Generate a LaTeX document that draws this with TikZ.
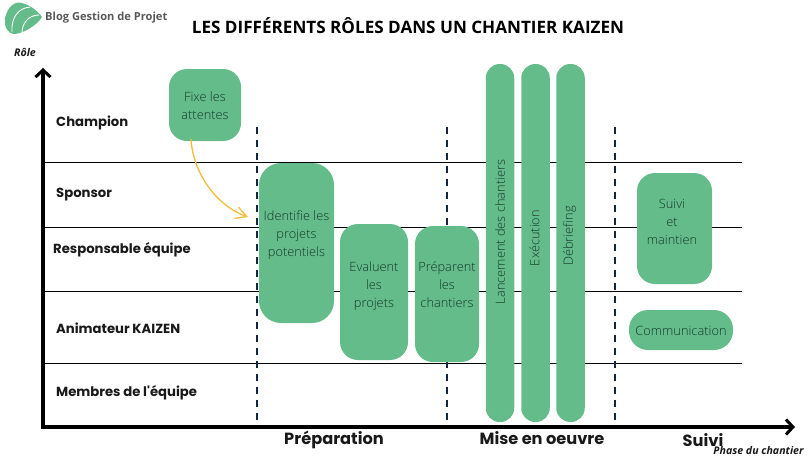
\documentclass[tikz,border=0pt]{standalone}
\usepackage{fontspec}
\setmainfont{Open Sans}
\newfontfamily\lab{Poppins}
\newfontfamily\lightf{Open Sans Light}
\usetikzlibrary{arrows.meta}
\definecolor{grn}{HTML}{64BC8B}
\definecolor{dsh}{HTML}{12263F}
\definecolor{txt}{HTML}{17382A}
\definecolor{ylw}{HTML}{F5BC3A}
\tikzset{
 pbox/.style={fill=grn,rounded corners=#1,inner sep=0pt,anchor=center},
 pbox/.default=16pt,
 ptext/.style={align=center,text=txt,inner sep=0pt,font=\lightf\fontsize{12.8}{18}\selectfont},
 rowlab/.style={font=\lab\bfseries\fontsize{13.2}{15}\selectfont,anchor=west,text=black!90,inner sep=0pt},
 phase/.style={font=\lab\bfseries\fontsize{16.2}{19}\selectfont,anchor=center,text=black!90,inner sep=0pt},
 axlab/.style={font=\bfseries\itshape\fontsize{10.6}{12}\selectfont,anchor=center,text=black!90,inner sep=0pt},
 rowline/.style={draw=black,line width=0.9pt},
 phaseline/.style={draw=dsh,line width=2pt,dash pattern=on 7pt off 6pt},
 axis/.style={draw=black,line width=3.4pt,-{Straight Barb[length=7pt,width=15pt,line width=3pt]}},
}
\begin{document}
\begin{tikzpicture}[x=1pt,y=-1pt]
\useasboundingbox (0,0) rectangle (811,456);
% logo
\fill[grn] (5,18) .. controls (8,6) and (15,1) .. (22,3) .. controls (30,5) and (38,11) .. (42,17) .. controls (38,24) and (25,33) .. (15,34) .. controls (7,34) and (4,26) .. (5,18) -- cycle;
\draw[white,line width=0.9pt] (12,32) .. controls (11,18) and (18,8) .. (30,7);
\draw[white,line width=0.9pt] (22,33) .. controls (22,24) and (28,15) .. (39,15);
\node[font=\bfseries\fontsize{11.1}{13}\selectfont,text=black!65,anchor=west,inner sep=0pt] (logo) at (45,18) {Blog Gestion de Projet};
\node[font=\bfseries\fontsize{17.1}{20}\selectfont,text=black,anchor=center,inner sep=0pt] (title) at (408,25.5) {LES DIFFÉRENTS RÔLES DANS UN CHANTIER KAIZEN};
\node[axlab] (role) at (25,52) {Rôle};
\node[axlab] (phasechantier) at (758.5,450.5) {Phase du chantier};
% coordinates
\foreach \n/\yy in {a/162,b/227,c/291,d/363}{
 \coordinate (\n l) at (43,\yy); \coordinate (\n r) at (742,\yy);
 \draw[rowline] (\n l) -- (\n r);
}
\foreach \n/\xx in {p/257,q/447,r/615}{
 \coordinate (\n t) at (\xx,127); \coordinate (\n b) at (\xx,427);
 \draw[phaseline] (\n t) -- (\n b);
}
\coordinate (o) at (43,427);
\coordinate (ytip) at (43,68);
\coordinate (xtip) at (795,427);
\draw[axis] ([yshift=-1.7pt]o) -- (ytip);
\draw[axis] ([xshift=-1.7pt]o) -- (xtip);
% boxes
\node[pbox=18pt,minimum width=72pt,minimum height=72pt] (fixe) at (205,105) {};
\node[ptext] (fixet) at (205,106) {Fixe les\\attentes};
\node[pbox=22pt,minimum width=75pt,minimum height=160pt] (ident) at (296.5,243) {};
\node[ptext] (identt) at (296.5,235) {Identifie les\\projets\\potentiels};
\node[pbox=18pt,minimum width=68pt,minimum height=136pt] (eval) at (374,292) {};
\node[ptext] (evalt) at (374,286.5) {Evaluent\\les\\projets};
\node[pbox=18pt,minimum width=64pt,minimum height=136pt] (prep) at (447,294) {};
\node[ptext] (prept) at (447,285) {Préparent\\les\\chantiers};
\node[pbox=14pt,minimum width=28.5pt,minimum height=358pt] (lanc) at (500,243) {};
\node[ptext,rotate=90] (lanct) at (500,232) {Lancement des chantiers};
\node[pbox=14pt,minimum width=28.5pt,minimum height=358pt] (exec) at (535.5,243) {};
\node[ptext,rotate=90] (exect) at (534.5,238) {Exécution};
\node[pbox=14pt,minimum width=28.5pt,minimum height=358pt] (debr) at (570.5,243) {};
\node[ptext,rotate=90] (debrt) at (569.5,236) {Débriefing};
\node[pbox=18pt,minimum width=75pt,minimum height=111pt] (suivi) at (674.5,228.5) {};
\node[ptext] (suivit) at (672,221.5) {Suivi\\et\\maintien};
\node[pbox=19pt,minimum width=104pt,minimum height=40pt] (comm) at (681,330) {};
\node[ptext] (commt) at (681,330.5) {Communication};
% arrow
\coordinate (arrowend) at (248,217);
\draw[ylw,line width=1.3pt,-{Straight Barb[length=11pt,width=12pt,line width=1.3pt]}] (fixe.south) ++(-14,-2) .. controls (193,172) and (215,205) .. (arrowend);
% labels
\node[rowlab] (champ) at (56,123) {Champion};
\node[rowlab] (spons) at (56,195) {Sponsor};
\node[rowlab] (resp) at (53,250) {Responsable équipe};
\node[rowlab] (anim) at (56,328.5) {Animateur KAIZEN};
\node[rowlab] (memb) at (56,393) {Membres de l'équipe};
\node[phase] (ph1) at (334,440) {Préparation};
\node[phase] (ph2) at (542,438) {Mise en oeuvre};
\node[phase] (ph3) at (703,440.5) {Suivi};
\end{tikzpicture}
\end{document}
